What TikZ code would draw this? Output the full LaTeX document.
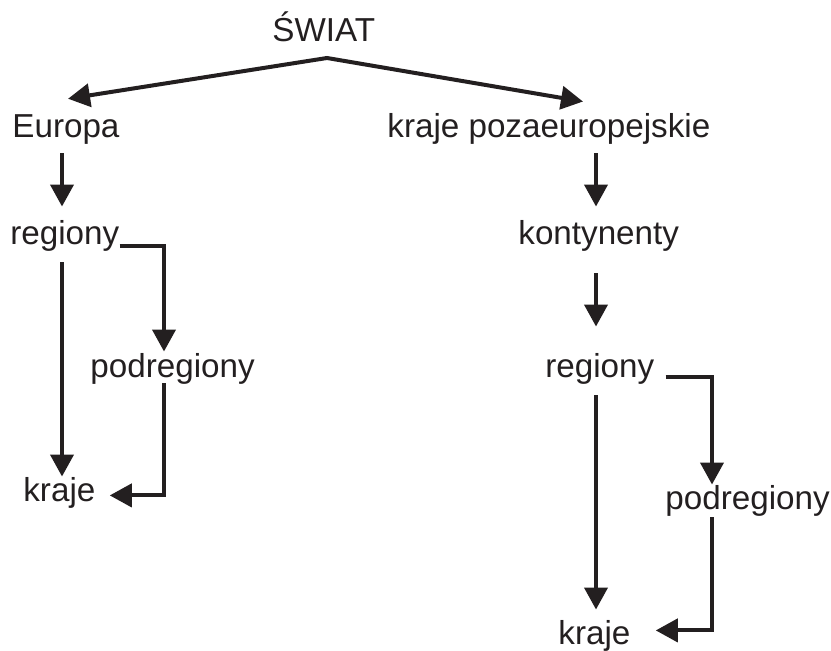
\documentclass[tikz,border=0pt]{standalone}
\usepackage{fontspec}
\setmainfont{Liberation Sans}
\usetikzlibrary{arrows.meta,calc}
\definecolor{ink}{HTML}{231F20}
\begin{document}
\begin{tikzpicture}[x=0.5pt,y=-0.5pt,
  lab/.style={anchor=base west,inner sep=0pt,text=ink,font=\fontsize{16.6}{20}\selectfont},
  arr/.style={draw=ink,line width=2pt,-{Triangle[length=11pt,width=11.5pt]}},
  arrb/.style={draw=ink,line width=2pt,{Triangle[length=11pt,width=11.5pt]}-{Triangle[length=11pt,width=11.5pt]}}]
\useasboundingbox (0,0) rectangle (831,651);
% nodes
\node[lab] (swiat) at (272,42) {ŚWIAT};
\node[lab] (europa) at (12,138) {Europa};
\node[lab] (kpe) at (387,138) {kraje pozaeuropejskie};
\node[lab] (regL) at (10,245) {regiony};
\node[lab] (podL) at (90,378) {podregiony};
\node[lab] (krajeL) at (23,502) {kraje};
\node[lab] (kont) at (518,245) {kontynenty};
\node[lab] (regR) at (545,378) {regiony};
\node[lab] (podR) at (665,510) {podregiony};
\node[lab] (krajeR) at (558,645) {kraje};
% column guides
\coordinate (cL) at (62,0);
\coordinate (cLb) at (164,0);
\coordinate (cR) at (596,0);
\coordinate (cRb) at (712,0);
\coordinate (apex) at (327,58);
\coordinate (tipE) at ($(europa.north west)+(56,-16)$);
\coordinate (tipK) at ($(kpe.north west)+(196,-12)$);
% connectors
\draw[arrb,line join=miter] (tipE) -- (apex) -- (tipK);
\draw[arr] ($(europa.south -| cL)+(0,8)$) -- ($(regL.north -| cL)+(0,-14)$);
\draw[arr] ($(regL.south -| cL)+(0,10)$) -- ($(krajeL.north -| cL)+(0,-1)$);
\draw[arr] ($(regL.base east)+(0,1)$) -| ($(podL.north -| cLb)+(0,-2)$);
\draw[arr] ($(podL.south -| cLb)+(0,-2)$) |- ($(krajeL.east)+(14,2)$);
\draw[arr] ($(kpe.south -| cR)+(0,8)$) -- ($(kont.north -| cR)+(0,-14)$);
\draw[arr] ($(kont.south -| cR)+(0,21)$) -- ($(regR.north -| cR)+(0,-27)$);
\draw[arr] ($(regR.south -| cR)+(0,10)$) -- ($(krajeR.north -| cR)+(0,-11)$);
\draw[arr] ($(regR.base east)+(11,-1)$) -| ($(podR.north -| cRb)+(0,-1)$);
\draw[arr] ($(podR.south -| cRb)+(0,0)$) |- ($(krajeR.east)+(25,-6)$);
\end{tikzpicture}
\end{document}
